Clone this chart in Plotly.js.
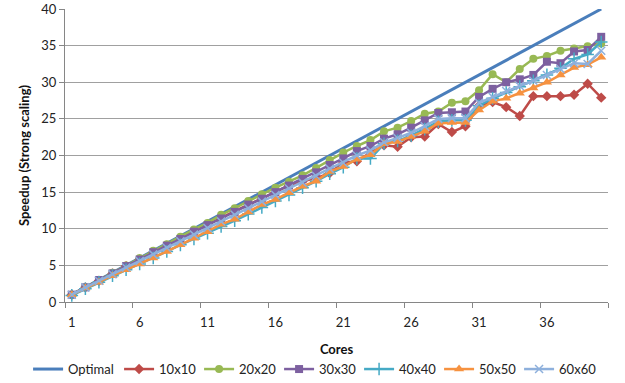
<!DOCTYPE html>
<html>
<head>
<meta charset="utf-8">
<script src="https://cdn.plot.ly/plotly-3.0.1.min.js"></script>
<style>
  html, body { margin: 0; padding: 0; background: #fff; }
  #chart { width: 625px; height: 383px; }
</style>
</head>
<body>
<div id="chart"></div>
<script>
const cores = Array.from({length: 40}, (_, i) => i + 1);
const tickValues = [1, 6, 11, 16, 21, 26, 31, 36];
const tickLabels = ["1", "6", "11", "16", "21", "26", "31", "36"];

const optimal = [1,2,3,4,5,6,7,8,9,10,11,12,13,14,15,16,17,18,19,20,21,22,23,24,25,26,27,28,29,30,31,32,33,34,35,36,37,38,39,40];
const s10x10 = [1.0,2.0,2.9,3.9,4.9,5.8,6.8,7.7,8.7,9.6,10.6,11.5,12.4,13.3,14.2,15.0,15.9,16.5,16.9,17.6,19.0,19.2,20.4,21.4,21.2,22.5,22.6,24.3,23.2,24.0,26.8,27.3,26.6,25.4,28.1,28.1,28.1,28.3,29.8,27.9];
const s20x20 = [1.0,2.0,3.0,4.0,5.0,6.0,7.0,7.9,8.9,9.9,10.8,11.9,12.8,13.8,14.7,15.6,16.4,17.3,18.3,19.4,20.4,21.3,22.1,23.3,23.8,24.7,25.7,26.0,27.2,27.4,28.9,31.1,30.0,31.8,33.2,33.6,34.3,34.6,34.9,35.3];
const s30x30 = [1.0,2.0,3.0,3.9,4.9,5.8,6.8,7.7,8.6,9.6,10.5,11.4,12.3,13.3,14.1,15.0,15.9,16.8,17.7,18.7,19.6,20.6,21.3,22.3,22.9,23.8,24.8,25.8,25.9,26.0,28.0,29.1,30.0,30.4,31.0,32.8,32.6,34.2,34.4,36.2];
const s40x40 = [0.9,1.8,2.7,3.6,4.4,5.2,6.0,6.9,7.8,8.6,9.4,10.3,11.1,12.0,12.9,13.8,14.6,15.6,16.5,17.5,18.4,19.6,19.6,21.6,22.0,22.7,23.6,24.6,24.8,24.8,26.8,27.8,28.6,29.4,30.2,31.0,31.9,33.2,33.8,35.5];
const s50x50 = [1.0,1.9,2.7,3.6,4.4,5.2,6.0,6.9,7.8,8.7,9.6,10.6,11.3,12.3,13.3,14.0,14.9,15.8,16.5,17.8,18.5,19.5,20.1,21.6,21.9,22.6,23.3,24.4,24.5,24.5,26.2,27.4,27.8,28.5,29.2,30.0,31.0,32.0,32.4,33.4];
const s60x60 = [1.0,2.0,2.9,3.8,4.7,5.6,6.5,7.4,8.3,9.2,10.1,11.0,11.9,12.8,13.7,14.6,15.5,16.3,17.2,18.2,19.0,20.0,20.7,21.8,22.4,23.1,24.0,25.0,25.1,25.1,27.2,28.0,28.8,29.5,30.2,31.0,31.8,32.6,32.5,34.3];

const seriesNames = ["Optimal", "10x10", "20x20", "30x30", "40x40", "50x50", "60x60"];

const FONT = "Lato, 'Open Sans', sans-serif";

const traces = [
  {name: seriesNames[0], y: optimal, mode: "lines", line: {color: "#4A7EBB", width: 3}, legendwidth: 46},
  {name: seriesNames[1], y: s10x10, mode: "lines+markers", line: {color: "#BE4B48", width: 2.5},
   marker: {symbol: "diamond", size: 8, color: "#BE4B48"}},
  {name: seriesNames[2], y: s20x20, mode: "lines+markers", line: {color: "#98B954", width: 2.5},
   marker: {symbol: "circle", size: 8, color: "#98B954"}},
  {name: seriesNames[3], y: s30x30, mode: "lines+markers", line: {color: "#7D60A0", width: 2.5},
   marker: {symbol: "square", size: 8, color: "#7D60A0"}},
  {name: seriesNames[4], y: s40x40, mode: "lines+markers", line: {color: "#46AAC5", width: 2.5},
   marker: {symbol: "cross-thin", size: 9, color: "#46AAC5", line: {color: "#46AAC5", width: 1.5}}},
  {name: seriesNames[5], y: s50x50, mode: "lines+markers", line: {color: "#F69240", width: 2.5},
   marker: {symbol: "triangle-up", size: 9, color: "#F69240"}},
  {name: seriesNames[6], y: s60x60, mode: "lines+markers", line: {color: "#8EB0DC", width: 2.5},
   marker: {symbol: "x-thin", size: 8, color: "#8EB0DC", line: {color: "#8EB0DC", width: 1.5}}}
].map((t, i) => Object.assign({x: cores, type: "scatter", legendwidth: 35}, t));

const layout = {
  width: 625,
  height: 383,
  margin: {l: 65, r: 17, t: 9, b: 81, autoexpand: false},
  paper_bgcolor: "#ffffff",
  plot_bgcolor: "#ffffff",
  font: {family: FONT, size: 13, color: "#222"},
  showlegend: true,
  legend: {
    orientation: "h",
    x: -0.068,
    xanchor: "left",
    y: -0.229,
    yanchor: "middle",
    font: {family: FONT, size: 13, color: "#222"},
    itemwidth: 30,
    tracegroupgap: 0
  },
  xaxis: {
    range: [0.5, 40.5],
    tickmode: "array",
    tickvals: tickValues,
    ticktext: tickLabels,
    ticks: "outside",
    ticklen: 8,
    tickcolor: "rgba(0,0,0,0)",
    showgrid: false,
    zeroline: false,
    showline: true,
    linecolor: "#868686",
    linewidth: 1,
    minor: {ticks: "outside", ticklen: 5, tickcolor: "#868686", tickmode: "linear", tick0: 0.5, dtick: 5, showgrid: false},
    title: {text: "Cores", font: {family: FONT, size: 13, color: "#111", weight: "bold"}, standoff: 16},
    tickfont: {family: FONT, size: 13, color: "#222"}
  },
  yaxis: {
    range: [0, 40],
    tickmode: "linear",
    tick0: 0,
    dtick: 5,
    ticks: "outside",
    ticklen: 5,
    tickcolor: "#868686",
    showgrid: true,
    gridcolor: "#A0A0A0",
    gridwidth: 1,
    zeroline: false,
    showline: true,
    linecolor: "#868686",
    linewidth: 1,
    title: {text: "Speedup (Strong scaling)", font: {family: FONT, size: 13, color: "#111", weight: "bold"}, standoff: 8},
    tickfont: {family: FONT, size: 13, color: "#222"}
  }
};

Plotly.newPlot("chart", traces, layout, {displayModeBar: false, staticPlot: true});
</script>
</body>
</html>
